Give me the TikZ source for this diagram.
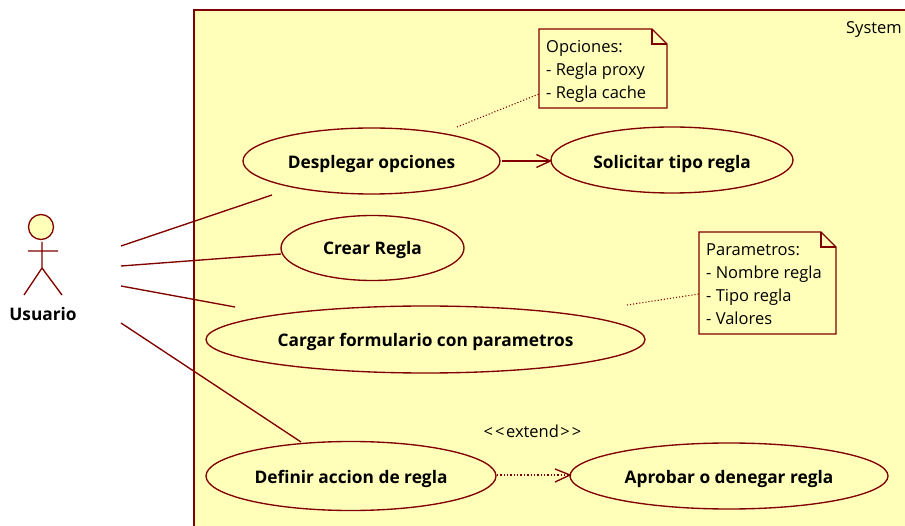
\documentclass[tikz,border=0pt]{standalone}
\usepackage{fontspec}
\setmainfont{Open Sans}
\usetikzlibrary{shapes.geometric,arrows.meta}
\definecolor{umlline}{RGB}{128,0,0}
\definecolor{umlfill}{RGB}{255,255,185}
\newcommand{\uclabel}[2]{\raisebox{-#1pt}[0pt][0pt]{#2}}
\tikzset{
  x=1pt,y=-1pt,
  line/.style={draw=umlline,line width=1.35pt},
  usecase/.style={line,shape=ellipse,fill=umlfill,inner sep=0pt,font=\fontsize{17.3}{20}\selectfont\bfseries,text=black},
  plainlabel/.style={inner sep=0pt,font=\fontsize{16.5}{20}\selectfont,text=black},
  notetext/.style={plainlabel,anchor=north west,align=left,font=\fontsize{16.5}{23}\selectfont},
  notebox/.style={line,fill=umlfill,line join=miter},
  openhead/.style={-{Straight Barb[length=14pt,width=13pt,line width=1.35pt]}},
}
\begin{document}
\begin{tikzpicture}
\useasboundingbox (0,0) rectangle (905,526);
\begin{scope}
\clip (0,0) rectangle (905,526);
\path[line,fill=umlfill] (194,10) rectangle (915,540);
\end{scope}
\node[plainlabel,anchor=east] (sys) at (902,30) {System};

% actor
\node[line,circle,fill=umlfill,minimum size=25pt,inner sep=0pt] (head) at (41,227) {};
\coordinate (neck) at (42,242);
\coordinate (hip) at (42,268);
\coordinate (armL) at (28,251);
\coordinate (armR) at (58,251);
\coordinate (legL) at (24,295);
\coordinate (legR) at (62,295);
\draw[line] (neck) -- (hip) (armL) -- (armR) (legL) -- (hip) -- (legR);
\node[inner sep=0pt,font=\fontsize{17.3}{20}\selectfont\bfseries] (usuario) at (43,314) {Usuario};

% use cases
\node[usecase,minimum width=257pt,minimum height=66pt] (desplegar) at (371.5,161) {\uclabel{8}{Desplegar opciones}};
\node[usecase,minimum width=242pt,minimum height=66pt] (solicitar) at (672,160) {\uclabel{8.5}{Solicitar tipo regla}};
\node[usecase,minimum width=183pt,minimum height=65pt] (crear) at (372.5,248) {\uclabel{7}{Crear Regla}};
\node[usecase,minimum width=439pt,minimum height=67pt] (cargar) at (425.5,339.5) {\uclabel{7}{Cargar formulario con parametros}};
\node[usecase,minimum width=290pt,minimum height=69pt] (definir) at (351,476) {\uclabel{7}{Definir accion de regla}};
\node[usecase,minimum width=318pt,minimum height=66pt] (aprobar) at (729,476) {\uclabel{7}{Aprobar o denegar regla}};

% notes
\draw[notebox] (539,29) -- (652,29) -- (667,44) -- (667,108) -- (539,108) -- cycle;
\draw[line] (652,29) -- (652,44) -- (667,44);
\node[notetext] (nota1) at (546,40) {Opciones:\\- Regla proxy\\- Regla cache};
\draw[notebox] (699,232) -- (821,232) -- (836,247) -- (836,334) -- (699,334) -- cycle;
\draw[line] (821,232) -- (821,247) -- (836,247);
\node[notetext] (nota2) at (706,244) {Parametros:\\- Nombre regla\\- Tipo regla\\- Valores};

% free connector ends
\coordinate (a1) at (121,246);
\coordinate (a2) at (121,266);
\coordinate (a3) at (121,286);
\coordinate (a4) at (121,323);
\coordinate (e1) at (272,195);
\coordinate (e2) at (281,254);
\coordinate (e3) at (235,307);
\coordinate (e4) at (301,442);
\coordinate (n1a) at (457,127);
\coordinate (n1b) at (539,94);
\coordinate (n2a) at (627,305);
\coordinate (n2b) at (699,294);
\coordinate (s1) at (502,161);
\coordinate (s2) at (552,161);
\coordinate (x1) at (497,475);
\coordinate (x2) at (570,475);
\coordinate (xa) at (555,469);
\coordinate (xb) at (555,482);

\draw[line] (a1) -- (e1);
\draw[line] (a2) -- (e2);
\draw[line] (a3) -- (e3);
\draw[line] (a4) -- (e4);
\draw[line,line width=1.1pt,dotted] (n1a) -- (n1b);
\draw[line,line width=1.1pt,dotted] (n2a) -- (n2b);
\draw[line,openhead] (s1) -- (s2);
\draw[line,dotted] (x1) -- (x2);
\draw[line] (xa) -- (x2) -- (xb);
\node[plainlabel] (ext) at (532.5,431) {<\kern2pt<\kern1.5pt extend\kern1.5pt>\kern2pt>};
\end{tikzpicture}
\end{document}
